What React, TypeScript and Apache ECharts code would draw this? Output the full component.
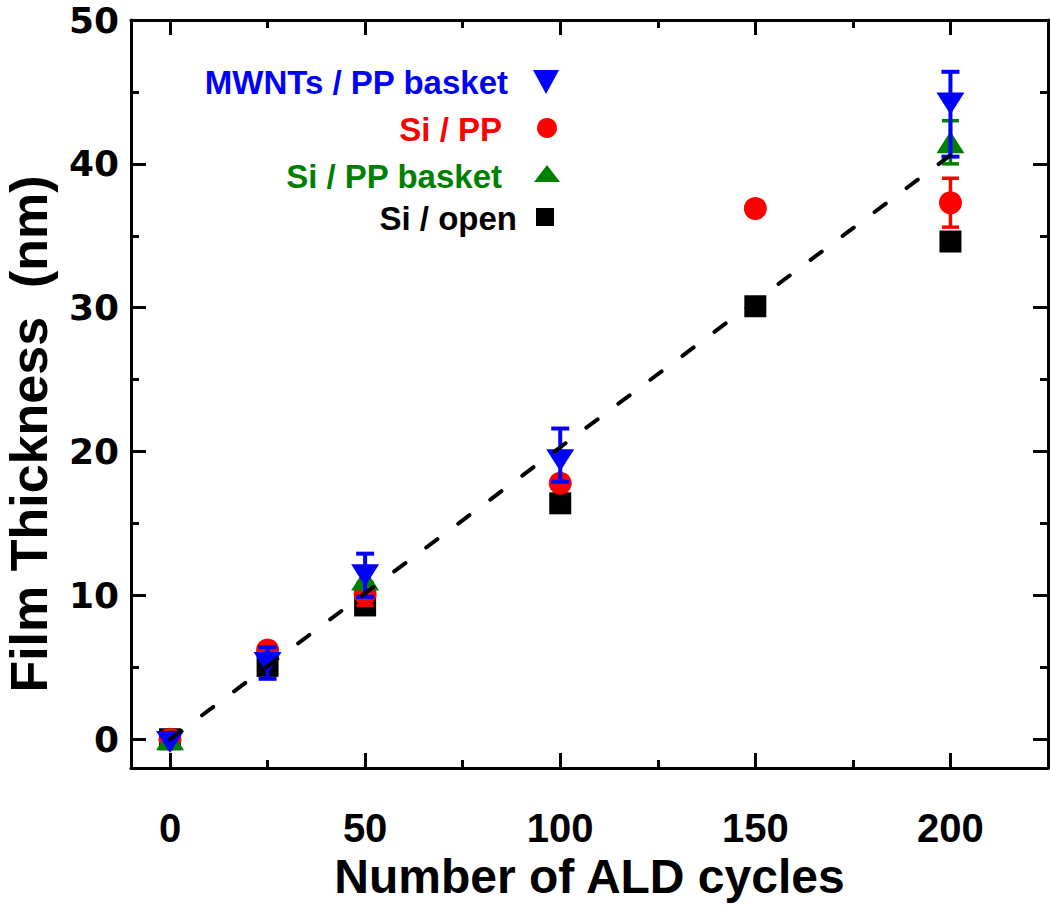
import React, { useEffect, useRef } from 'react';
import * as echarts from 'echarts';

// ---- data ----
const cyclesOpen = [0, 25, 50, 100, 150, 200];
const thickOpen = [0, 5.1, 9.3, 16.4, 30.1, 34.6];
const errUpOpen = [0, 0, 0, 0, 0, 0.4];
const errDownOpen = [0, 0, 0, 0, 0, 0.4];

const cyclesPP = [0, 25, 50, 100, 150, 200];
const thickPP = [0, 6.2, 10.1, 17.8, 36.9, 37.3];
const errUpPP = [0, 0.4, 0.8, 0.3, 0, 1.7];
const errDownPP = [0, 0.4, 0.8, 0.3, 0, 1.7];

const cyclesBasket = [0, 50, 200];
const thickBasket = [0, 11.1, 41.5];
const errUpBasket = [0, 0.6, 1.5];
const errDownBasket = [0, 0.6, 1.5];

const cyclesMWNT = [0, 25, 50, 100, 200];
const thickMWNT = [-0.2, 5.3, 11.4, 19.4, 44.2];
const errUpMWNT = [0, 1.1, 1.5, 2.2, 2.2];
const errDownMWNT = [0, 1.1, 1.5, 1.5, 3.7];

const fitX = [0, 200];
const fitY = [0, 40.6];

const xMajorTicks = [0, 50, 100, 150, 200];
const xMinorTicks = [25, 75, 125, 175];
const yMajorTicks = [0, 10, 20, 30, 40, 50];
const yMinorTicks = [5, 15, 25, 35, 45];

const seriesNames = ['MWNTs / PP basket', 'Si / PP', 'Si / PP basket', 'Si / open'];

const BLUE = '#0000ff';
const RED = '#ff0000';
const GREEN = '#008000';
const BLACK = '#000000';

const pts = (xs: number[], ys: number[]) => xs.map((x, i) => [x, ys[i]]);
const errPts = (xs: number[], ys: number[], up: number[], down: number[]) =>
  xs
    .map((x, i) => [x, ys[i] - down[i], ys[i] + up[i]])
    .filter((_, i) => up[i] > 0 || down[i] > 0);

const errRender = (color: string, capW: number, lw: number) => (params: any, api: any) => {
  const x = api.value(0);
  const lo = api.value(1);
  const hi = api.value(2);
  const p1 = api.coord([x, hi]);
  const p2 = api.coord([x, lo]);
  const h = capW / 2;
  const style = { stroke: color, lineWidth: lw };
  return {
    type: 'group',
    children: [
      { type: 'line', shape: { x1: p1[0], y1: p1[1], x2: p2[0], y2: p2[1] }, style },
      { type: 'line', shape: { x1: p1[0] - h, y1: p1[1], x2: p1[0] + h, y2: p1[1] }, style },
      { type: 'line', shape: { x1: p2[0] - h, y1: p2[1], x2: p2[0] + h, y2: p2[1] }, style },
    ],
  };
};

const TICK_FONT_Y = '"DejaVu Sans", sans-serif';
const SANS = '"Liberation Sans", Arial, sans-serif';

const mkX = (position: string, ticks: number[], len: number, main: boolean, labels: boolean) => ({
  type: 'value',
  position,
  min: -10,
  max: 225,
  ...(labels
    ? {
        name: 'Number of ALD cycles',
        nameLocation: 'middle',
        nameGap: 58,
        nameTextStyle: { fontFamily: SANS, fontWeight: 'bold', fontSize: 48, color: '#000' },
      }
    : {}),
  axisLine: { show: main, onZero: false, lineStyle: { color: '#000', width: 3 } },
  axisTick: { show: true, inside: true, length: len, customValues: ticks, lineStyle: { color: '#000', width: 3 } },
  axisLabel: labels
    ? { show: true, customValues: ticks, margin: 40, fontFamily: SANS, fontWeight: 'bold', fontSize: 40, color: '#000' }
    : { show: false },
  splitLine: { show: false },
});

const mkY = (position: string, ticks: number[], len: number, main: boolean, labels: boolean) => ({
  type: 'value',
  position,
  min: -2,
  max: 50,
  ...(labels
    ? {
        name: 'Film Thickness  (nm)',
        nameLocation: 'middle',
        nameGap: 76,
        nameTextStyle: { fontFamily: SANS, fontWeight: 'bold', fontSize: 52, color: '#000', padding: [0, 80, 0, 0] },
      }
    : {}),
  axisLine: { show: main, onZero: false, lineStyle: { color: '#000', width: 3 } },
  axisTick: { show: true, inside: true, length: len, customValues: ticks, lineStyle: { color: '#000', width: 3 } },
  axisLabel: labels
    ? { show: true, customValues: ticks, margin: 12, fontFamily: TICK_FONT_Y, fontWeight: 'bold', fontSize: 36, color: '#000' }
    : { show: false },
  splitLine: { show: false },
});

const legendFont = 'bold 33px "Liberation Sans", Arial, sans-serif';
const legendText = (text: string, x: number, y: number, color: string) => ({
  type: 'text',
  x,
  y,
  style: { text, fill: color, font: legendFont, textAlign: 'right', textVerticalAlign: 'middle', align: 'right', verticalAlign: 'middle' },
});

export default function App() {
  const ref = useRef<HTMLDivElement>(null);
  useEffect(() => {
    if (!ref.current) return;
    const chart = echarts.init(ref.current, null, { renderer: 'svg' });
    chart.setOption({
      animation: false,
      backgroundColor: '#fff',
      grid: { left: 131, right: 2, top: 20, bottom: 139, outerBoundsMode: 'none', containLabel: false },
      xAxis: [
        mkX('bottom', xMajorTicks, 15, true, true),
        mkX('bottom', xMinorTicks, 8, false, false),
        mkX('top', xMajorTicks, 15, true, false),
        mkX('top', xMinorTicks, 8, false, false),
      ],
      yAxis: [
        mkY('left', yMajorTicks, 15, true, true),
        mkY('left', yMinorTicks, 8, false, false),
        mkY('right', yMajorTicks, 15, true, false),
        mkY('right', yMinorTicks, 8, false, false),
      ],
      graphic: [
        legendText(seriesNames[0], 508, 82, BLUE),
        { type: 'polygon', shape: { points: [[533, 70], [559, 70], [546, 94]] }, style: { fill: BLUE } },
        legendText(seriesNames[1], 502, 129, RED),
        { type: 'circle', shape: { cx: 547, cy: 128, r: 10 }, style: { fill: RED } },
        legendText(seriesNames[2], 502, 176, GREEN),
        { type: 'polygon', shape: { points: [[534, 182], [560, 182], [547, 165]] }, style: { fill: GREEN } },
        legendText(seriesNames[3], 517, 218, BLACK),
        { type: 'rect', shape: { x: 536, y: 208, width: 18, height: 18 }, style: { fill: BLACK } },
      ],
      series: [
        {
          name: seriesNames[3], type: 'scatter', z: 2, data: pts(cyclesOpen, thickOpen),
          symbol: 'rect', symbolSize: 22, itemStyle: { color: BLACK, opacity: 1 },
        },
        {
          type: 'custom', z: 2, data: errPts(cyclesOpen, thickOpen, errUpOpen, errDownOpen),
          renderItem: errRender(BLACK, 0, 2), encode: { x: 0, y: [1, 2] },
        },
        {
          type: 'custom', z: 3, data: errPts(cyclesPP, thickPP, errUpPP, errDownPP),
          renderItem: errRender(RED, 17, 3.5), encode: { x: 0, y: [1, 2] },
        },
        {
          name: seriesNames[1], type: 'scatter', z: 4, data: pts(cyclesPP, thickPP),
          symbol: 'circle', symbolSize: 23, itemStyle: { color: RED, opacity: 1 },
        },
        {
          type: 'custom', z: 5, data: errPts(cyclesBasket, thickBasket, errUpBasket, errDownBasket),
          renderItem: errRender(GREEN, 17, 3.5), encode: { x: 0, y: [1, 2] },
        },
        {
          name: seriesNames[2], type: 'scatter', z: 6, data: pts(cyclesBasket, thickBasket),
          symbol: 'triangle', symbolSize: [28, 22], itemStyle: { color: GREEN, opacity: 1 },
        },
        {
          type: 'custom', z: 7, data: errPts(cyclesMWNT, thickMWNT, errUpMWNT, errDownMWNT),
          renderItem: errRender(BLUE, 18, 4), encode: { x: 0, y: [1, 2] },
        },
        {
          name: seriesNames[0], type: 'scatter', z: 8, data: pts(cyclesMWNT, thickMWNT),
          symbol: 'triangle', symbolRotate: 180, symbolSize: [28, 22], itemStyle: { color: BLUE, opacity: 1 },
        },
        {
          type: 'line', z: 9, data: pts(fitX, fitY), symbol: 'none',
          lineStyle: { color: BLACK, width: 4, type: [14, 26], cap: 'round' },
        },
      ],
    });
    return () => chart.dispose();
  }, []);
  return (
    <div
      ref={ref}
      style={{ position: 'fixed', left: 0, top: 0, width: 1050, height: 907, background: '#fff' }}
    />
  );
}
